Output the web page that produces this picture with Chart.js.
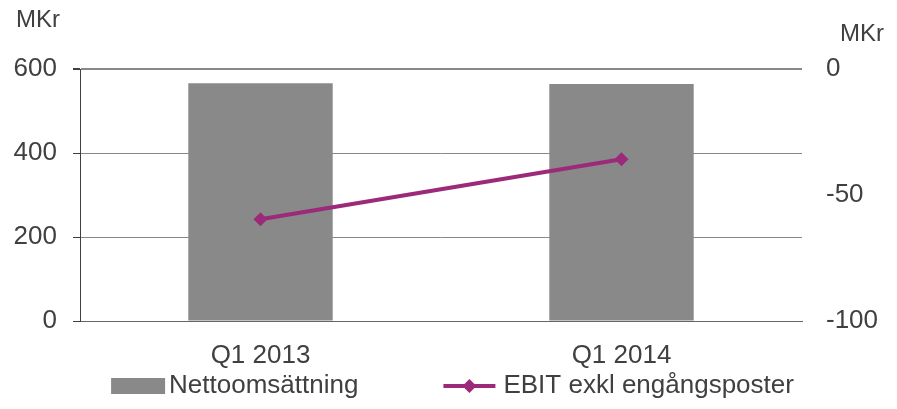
<!DOCTYPE html>
<html>
<head>
<meta charset="utf-8">
<script src="https://cdn.jsdelivr.net/npm/chart.js@4.4.1/dist/chart.umd.min.js"></script>
<style>
  html, body { margin: 0; padding: 0; background: #fff; }
</style>
</head>
<body>
<canvas id="myChart" width="897" height="409"></canvas>
<script>
// data
const labels = ['Q1 2013', 'Q1 2014'];
const nettoomsattning = [566, 564];
const ebitExkl = [-59.6, -35.8];
const leftTicks = [0, 200, 400, 600];
const rightTicks = [-100, -50, 0];
const unit = 'MKr';

const grey = '#898989';
const plum = '#9c2a7a';
const textCol = '#404040';

Chart.defaults.font.family = 'Liberation Sans, Arial, sans-serif';
Chart.defaults.color = textCol;

// unit labels + legend drawn on the canvas
const extras = {
    id: 'extras',
    afterDraw(chart) {
        const ctx = chart.ctx;
        const area = chart.chartArea;
        ctx.save();
        ctx.fillStyle = textCol;
        ctx.textBaseline = 'alphabetic';
        ctx.textAlign = 'left';
        ctx.font = '24px "Liberation Sans", Arial, sans-serif';
        ctx.fillText(unit, 16, area.top - 42);
        ctx.fillText(unit, area.right + 38, area.top - 28);

        // legend: bar first, then line
        ctx.font = '26px "Liberation Sans", Arial, sans-serif';
        ctx.textBaseline = 'middle';
        const bar = chart.data.datasets.find(d => d.type !== 'line');
        const line = chart.data.datasets.find(d => d.type === 'line');
        const t1 = ctx.measureText(bar.label).width;
        const t2 = ctx.measureText(line.label).width;
        const total = 54 + 4 + t1 + 85 + 52 + 8 + t2;
        let x = chart.width / 2 + 4 - total / 2;
        const y = 386;
        ctx.fillStyle = bar.backgroundColor;
        ctx.fillRect(x, y - 8, 54, 16);
        x += 58;
        ctx.fillStyle = textCol;
        ctx.fillText(bar.label, x, y);
        x += t1 + 85;
        ctx.strokeStyle = line.borderColor;
        ctx.lineWidth = 4;
        ctx.beginPath();
        ctx.moveTo(x, y);
        ctx.lineTo(x + 52, y);
        ctx.stroke();
        ctx.fillStyle = line.borderColor;
        ctx.beginPath();
        ctx.moveTo(x + 26, y - 7);
        ctx.lineTo(x + 33, y);
        ctx.lineTo(x + 26, y + 7);
        ctx.lineTo(x + 19, y);
        ctx.closePath();
        ctx.fill();
        x += 60;
        ctx.fillStyle = textCol;
        ctx.fillText(line.label, x, y);
        ctx.restore();
    }
};

new Chart(document.getElementById('myChart'), {
    type: 'bar',
    data: {
        labels: labels,
        datasets: [
            {
                type: 'line',
                label: 'EBIT exkl engångsposter',
                data: ebitExkl,
                yAxisID: 'y2',
                borderColor: plum,
                backgroundColor: plum,
                borderWidth: 4,
                pointStyle: 'rectRot',
                pointRadius: 7,
                pointBackgroundColor: plum,
                pointBorderWidth: 0,
                order: 0
            },
            {
                type: 'bar',
                label: 'Nettoomsättning',
                data: nettoomsattning,
                yAxisID: 'y',
                backgroundColor: grey,
                categoryPercentage: 0.8,
                barPercentage: 0.5,
                order: 1
            }
        ]
    },
    options: {
        responsive: false,
        animation: false,
        devicePixelRatio: 1,
        layout: { autoPadding: false, padding: { top: 69, left: 0, right: 0, bottom: 0 } },
        plugins: { legend: { display: false }, tooltip: { enabled: false } },
        scales: {
            x: {
                grid: { display: false, drawTicks: false },
                border: { display: true, color: '#666', width: 1 },
                ticks: { font: { size: 26 }, color: textCol, padding: 19 },
                afterFit: s => { s.height = 88; }
            },
            y: {
                position: 'left',
                min: 0,
                max: 600,
                afterBuildTicks: s => { s.ticks = leftTicks.map(v => ({ value: v })); },
                grid: {
                    color: c => c.tick && c.tick.value === 0 ? '#666' : '#888',
                    lineWidth: c => c.tick && c.tick.value === 600 ? 2 : 1,
                    tickLength: 7,
                    tickColor: '#404040'
                },
                border: { display: true, color: '#404040', width: 1 },
                ticks: { font: { size: 26 }, color: textCol, padding: 16 },
                afterFit: s => { s.width = 80; }
            },
            y2: {
                position: 'right',
                min: -100,
                max: 0,
                afterBuildTicks: s => { s.ticks = rightTicks.map(v => ({ value: v })); },
                grid: { display: false, drawTicks: false },
                border: { display: false },
                ticks: { font: { size: 26 }, color: textCol, padding: 24 },
                afterFit: s => { s.width = 95; }
            }
        }
    },
    plugins: [extras]
});
</script>
</body>
</html>
